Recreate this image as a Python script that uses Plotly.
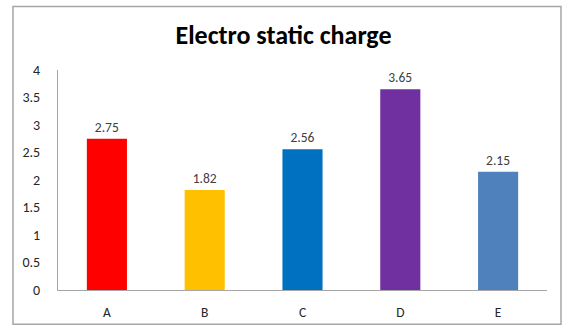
import plotly.graph_objects as go

# Electro static charge per sample
categories = ["A", "B", "C", "D", "E"]
charge = [2.75, 1.82, 2.56, 3.65, 2.15]
bar_colors = ["#FF0000", "#FFC000", "#0070C0", "#7030A0", "#4F81BD"]
y_ticks = [0, 0.5, 1, 1.5, 2, 2.5, 3, 3.5, 4]

FONT = "Carlito, Lato, 'Open Sans', sans-serif"

fig = go.Figure(
    go.Bar(
        x=categories,
        y=charge,
        marker=dict(color=bar_colors, line=dict(width=0)),
        text=[f"{v:.2f}" for v in charge],
        textposition="outside",
        textfont=dict(family=FONT, size=13.5, color="#404040"),
        cliponaxis=False,
    )
)

fig.update_layout(
    width=567,
    height=333,
    margin=dict(l=58, r=20, t=70, b=38),
    paper_bgcolor="white",
    plot_bgcolor="white",
    bargap=0.59,
    showlegend=False,
    title=dict(
        text="<b>Electro static charge</b>",
        x=0.5,
        xanchor="center",
        y=0.895,
        yanchor="middle",
        font=dict(family=FONT, size=26, color="#000000"),
    ),
    xaxis=dict(
        showline=True,
        linecolor="#A6A6A6",
        linewidth=1,
        showgrid=False,
        ticks="",
        tickfont=dict(family=FONT, size=13.5, color="#262626"),
        ticklabelstandoff=10,
    ),
    yaxis=dict(
        range=[0, 4],
        tickvals=y_ticks,
        ticktext=[f"{t:g}" for t in y_ticks],
        showline=True,
        linecolor="#A6A6A6",
        linewidth=1,
        showgrid=False,
        zeroline=False,
        ticks="",
        tickfont=dict(family=FONT, size=14, color="#262626"),
        ticklabelstandoff=14,
    ),
    shapes=[
        dict(
            type="rect",
            xref="paper",
            yref="paper",
            x0=(13 - 58) / 489,
            x1=(561 - 58) / 489,
            y0=(295 - 330) / 225,
            y1=(295 - 5) / 225,
            line=dict(color="#A6A6A6", width=1.5),
            fillcolor="rgba(0,0,0,0)",
            layer="below",
        )
    ],
)

fig.write_html("out.html")
